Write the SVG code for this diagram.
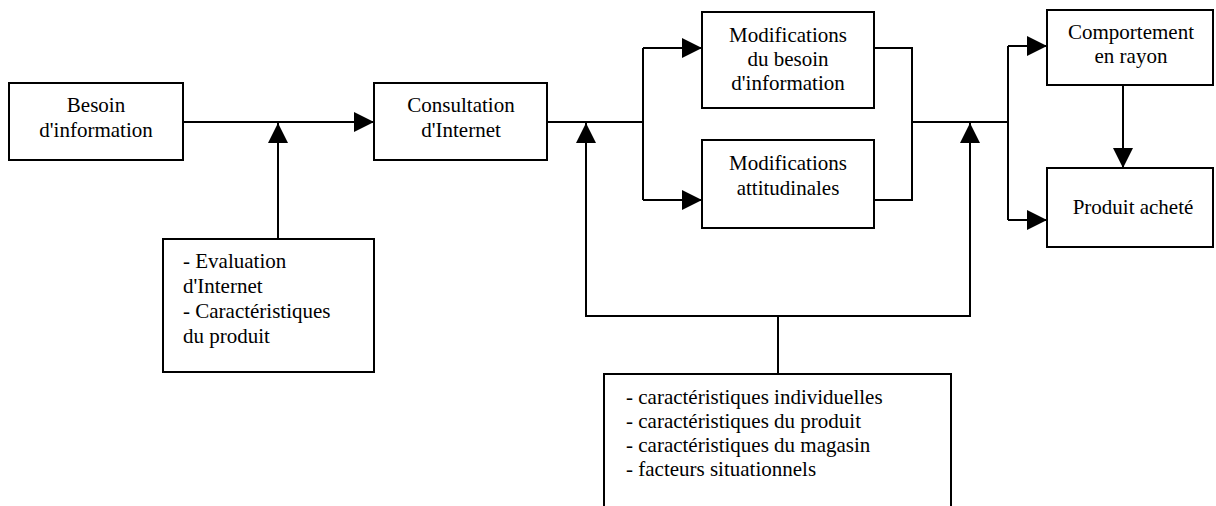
<svg xmlns="http://www.w3.org/2000/svg" width="1216" height="506" viewBox="0 0 1216 506">
<style>
.box{fill:#fff;stroke:#000;stroke-width:2}
.ln{fill:none;stroke:#000;stroke-width:2}
text{font-size:21px;fill:#000}
.c{text-anchor:middle}
</style>
<defs>
<marker id="ah" markerUnits="userSpaceOnUse" markerWidth="20" markerHeight="20" refX="20" refY="10" orient="auto">
<path d="M0,0 L20,10 L0,20 Z" fill="#000"/>
</marker>
</defs>
<rect width="1216" height="506" fill="#fff"/>
<g id="connectors">
<line class="ln" x1="183" y1="122" x2="374" y2="122" marker-end="url(#ah)"/>
<line class="ln" x1="278" y1="239" x2="278" y2="123" marker-end="url(#ah)"/>
<path class="ln" d="M547,122 H643 M643,48 V200"/>
<line class="ln" x1="643" y1="48" x2="702" y2="48" marker-end="url(#ah)"/>
<line class="ln" x1="643" y1="200" x2="702" y2="200" marker-end="url(#ah)"/>
<line class="ln" x1="586" y1="316" x2="586" y2="123" marker-end="url(#ah)"/>
<path class="ln" d="M874,48 H912 V200 H874 M912,122 H1008 M1008,46 V220"/>
<line class="ln" x1="1008" y1="46" x2="1047" y2="46" marker-end="url(#ah)"/>
<line class="ln" x1="1008" y1="220" x2="1047" y2="220" marker-end="url(#ah)"/>
<line class="ln" x1="970" y1="316" x2="970" y2="123" marker-end="url(#ah)"/>
<path class="ln" d="M585,316 H971 M778,316 V374"/>
<line class="ln" x1="1123" y1="85" x2="1123" y2="168" marker-end="url(#ah)"/>
</g>
<g font-family="Liberation Serif, Tinos, Times New Roman, serif">
<g id="besoin">
<rect class="box" x="9" y="83" width="174" height="77"/>
<text class="c" x="96" y="112">Besoin</text>
<text class="c" x="96" y="137">d'information</text>
</g>
<g id="consultation">
<rect class="box" x="374" y="83" width="173" height="77"/>
<text class="c" x="461" y="112">Consultation</text>
<text class="c" x="461" y="137">d'Internet</text>
</g>
<g id="evaluation">
<rect class="box" x="163" y="239" width="211" height="133"/>
<text x="183" y="268">- Evaluation</text>
<text x="183" y="293">d'Internet</text>
<text x="183" y="318">- Caractéristiques</text>
<text x="183" y="343">du produit</text>
</g>
<g id="modif-besoin">
<rect class="box" x="702" y="12" width="172" height="96"/>
<text class="c" x="788" y="42">Modifications</text>
<text class="c" x="788" y="66">du besoin</text>
<text class="c" x="788" y="90">d'information</text>
</g>
<g id="modif-attitudinales">
<rect class="box" x="702" y="140" width="172" height="88"/>
<text class="c" x="788" y="170">Modifications</text>
<text class="c" x="788" y="195">attitudinales</text>
</g>
<g id="comportement">
<rect class="box" x="1047" y="10" width="166" height="75"/>
<text class="c" x="1131" y="39">Comportement</text>
<text class="c" x="1131" y="63">en rayon</text>
</g>
<g id="produit">
<rect class="box" x="1047" y="168" width="166" height="79"/>
<text class="c" x="1133" y="214">Produit acheté</text>
</g>
<g id="facteurs">
<rect class="box" x="604" y="374" width="347" height="140"/>
<text x="626" y="404">- caractéristiques individuelles</text>
<text x="626" y="428">- caractéristiques du produit</text>
<text x="626" y="452">- caractéristiques du magasin</text>
<text x="626" y="476">- facteurs situationnels</text>
</g>
</g>
</svg>
